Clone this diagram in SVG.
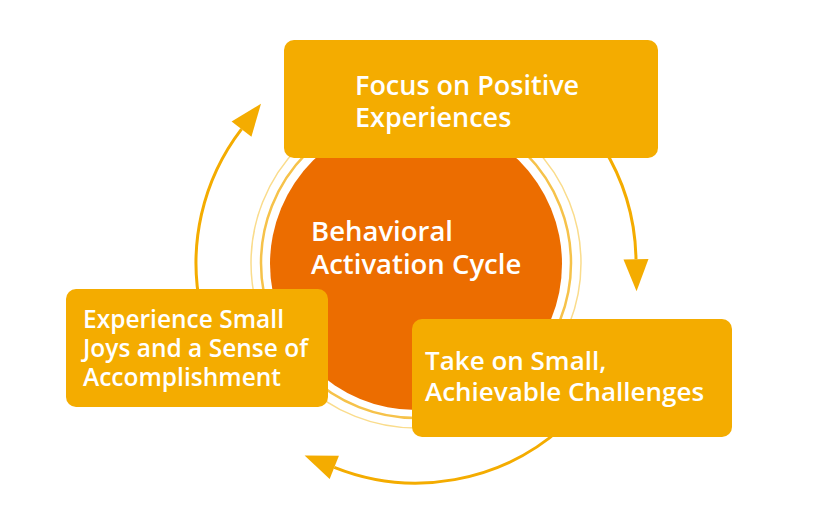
<svg xmlns="http://www.w3.org/2000/svg" width="834" height="523" viewBox="0 0 834 523">
<style>
.box{fill:#F4AC00;}
.lbl{font-family:"Open Sans","Noto Sans","Liberation Sans",sans-serif;font-weight:600;fill:#FFFFFF;font-size:26px;}
.arc{fill:none;stroke:#F4AC00;stroke-width:3;}
</style>
<defs>
<marker id="ah" markerUnits="userSpaceOnUse" markerWidth="34" markerHeight="26" refX="0" refY="12.5" orient="auto" overflow="visible">
<path d="M0,0 L32,12.5 L0,25 Z" fill="#F4AC00"/>
</marker>
</defs>
<rect width="834" height="523" fill="#FFFFFF"/>
<g id="connectors">
<path class="arc" d="M200.8,308.7 A220,220 0 0 1 241.5,129.1" marker-end="url(#ah)"/>
<path class="arc" d="M602.6,146.4 A220,220 0 0 1 636,259.2" marker-end="url(#ah)"/>
<path class="arc" d="M563.2,426.5 A220,220 0 0 1 334.3,467.3" marker-end="url(#ah)"/>
</g>
<g id="center">
<circle cx="416" cy="263" r="165" fill="none" stroke="#FADC8C" stroke-width="1.5"/>
<circle cx="416" cy="263" r="155" fill="none" stroke="#F6C24A" stroke-width="2.5"/>
<circle cx="416" cy="264" r="146" fill="#EC6D00"/>
<text class="lbl" style="font-size:27.5px"><tspan x="311" y="241">Behavioral</tspan><tspan x="311" y="274">Activation Cycle</tspan></text>
</g>
<g id="focus">
<rect class="box" x="284" y="40" width="374" height="118" rx="10"/>
<text class="lbl" style="font-size:27px"><tspan x="355" y="95">Focus on Positive</tspan><tspan x="355" y="127">Experiences</tspan></text>
</g>
<g id="challenges">
<rect class="box" x="412" y="319" width="320" height="118" rx="10"/>
<text class="lbl"><tspan x="425" y="370">Take on Small,</tspan><tspan x="425" y="401">Achievable Challenges</tspan></text>
</g>
<g id="joys">
<rect class="box" x="66" y="289" width="262" height="118" rx="10"/>
<text class="lbl" style="font-size:24.5px"><tspan x="83" y="328">Experience Small</tspan><tspan x="83" y="357">Joys and a Sense of</tspan><tspan x="83" y="386">Accomplishment</tspan></text>
</g>
</svg>
